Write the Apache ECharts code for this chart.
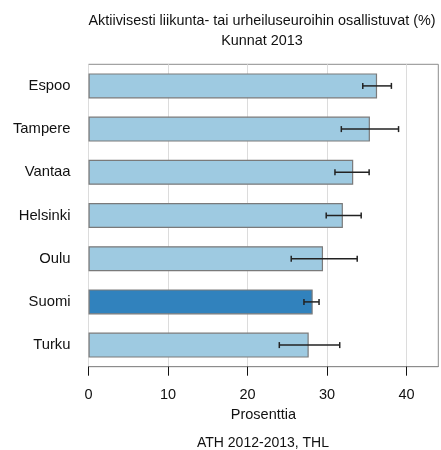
<!DOCTYPE html>
<html>
<head>
<meta charset="utf-8">
<script src="https://cdn.jsdelivr.net/npm/echarts@6/dist/echarts.min.js"></script>
<style>
  html, body { margin: 0; padding: 0; background: #ffffff; }
  #chart { width: 441px; height: 450px; }
</style>
</head>
<body>
<div id="chart"></div>
<script>
// Municipalities, top to bottom
const categories = ['Espoo', 'Tampere', 'Vantaa', 'Helsinki', 'Oulu', 'Suomi', 'Turku'];
// Share (%) actively taking part in sports clubs
const values = [36.3, 35.4, 33.3, 32.0, 29.5, 28.2, 27.7];
// Confidence interval bounds
const lower = [34.5, 31.8, 31.0, 29.9, 25.5, 27.1, 24.0];
const upper = [38.1, 39.0, 35.3, 34.3, 33.8, 29.0, 31.6];
// Whole country highlighted
const highlight = 'Suomi';
const xTicks = [0, 10, 20, 30, 40];

const FONT = '"Liberation Sans", Arial, sans-serif';
const LIGHT = '#9ecae1';
const DARK = '#3182bd';

const chart = echarts.init(document.getElementById('chart'), null, { renderer: 'canvas' });

const barData = values.map((v, i) => ({
  value: v,
  itemStyle: { color: categories[i] === highlight ? DARK : LIGHT }
}));
const errData = categories.map((c, i) => [i, lower[i], upper[i]]);

chart.setOption({
  animation: false,
  title: [
    {
      text: 'Aktiivisesti liikunta- tai urheiluseuroihin osallistuvat (%)\nKunnat 2013',
      left: 257, top: 6, textAlign: 'center',
      textStyle: { fontFamily: FONT, fontSize: 14.4, fontWeight: 'normal', color: '#111', lineHeight: 20 }
    },
    {
      text: 'ATH 2012-2013, THL',
      left: 258, top: 431, textAlign: 'center',
      textStyle: { fontFamily: FONT, fontSize: 14, fontWeight: 'normal', color: '#111' }
    }
  ],
  grid: { left: 88.5, right: 2.7, top: 64.3, bottom: 83.3, show: true, borderColor: '#8c8c8c', borderWidth: 1 },
  xAxis: {
    type: 'value', min: 0, max: 44, interval: 10,
    name: 'Prosenttia', nameLocation: 'middle', nameGap: 39,
    nameTextStyle: { fontFamily: FONT, fontSize: 14.5, color: '#111' },
    axisLine: { show: true, lineStyle: { color: '#8c8c8c' } },
    axisTick: { show: true, length: 9, customValues: xTicks, lineStyle: { color: '#111' } },
    axisLabel: {
      fontFamily: FONT, fontSize: 14.5, color: '#111', margin: 21,
      customValues: xTicks
    },
    splitLine: { show: true, lineStyle: { color: '#dcdcdc', width: 1 } }
  },
  yAxis: {
    type: 'category', data: categories, inverse: true,
    axisLine: { show: false }, axisTick: { show: false },
    axisLabel: { fontFamily: FONT, fontSize: 14.8, color: '#111', margin: 18 }
  },
  series: [
    {
      type: 'bar', data: barData, barWidth: 25,
      itemStyle: { borderColor: '#7a7a7a', borderWidth: 1.2 },
      z: 2
    },
    {
      type: 'custom', data: errData, z: 3,
      renderItem: (params, api) => {
        const i = api.value(0);
        const p1 = api.coord([api.value(1), i]);
        const p2 = api.coord([api.value(2), i]);
        const y = p1[1];
        const h = 3;
        const style = { stroke: '#222', lineWidth: 1.5 };
        return {
          type: 'group',
          children: [
            { type: 'line', shape: { x1: p1[0], y1: y, x2: p2[0], y2: y }, style },
            { type: 'line', shape: { x1: p1[0], y1: y - h, x2: p1[0], y2: y + h }, style },
            { type: 'line', shape: { x1: p2[0], y1: y - h, x2: p2[0], y2: y + h }, style }
          ]
        };
      },
      encode: { x: [1, 2], y: 0 }
    }
  ]
});
</script>
</body>
</html>
